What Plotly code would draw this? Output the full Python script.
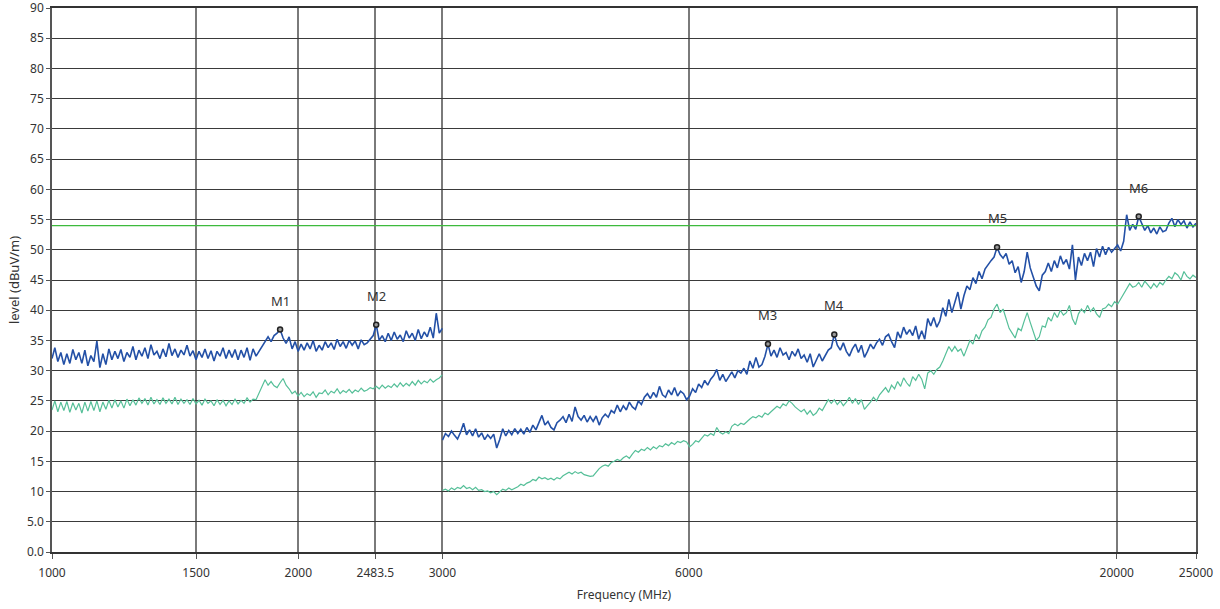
import numpy as np
import plotly.graph_objects as go

# ---------------- data ----------------
# sweep segments (MHz) and number of measured points in each
seg1_start, seg1_stop, seg1_n = 1000, 3000, 131
seg2_start, seg2_stop, seg2_n = 3000, 25000, 251

peak_seg1 = [
    32, 33.8, 31.5, 33, 31, 32.8, 31.2, 33.5, 31.8, 33,
    31.2, 33.4, 30.8, 32.5, 31.5, 34.9, 30.5, 32.8, 31, 33.6,
    31.8, 33.2, 32, 33.5, 31.5, 33, 32.2, 34, 31.8, 33.4,
    32.4, 33.8, 32, 34.3, 32.6, 33.2, 32, 33.6, 32.3, 34.5,
    32.5, 33.6, 32.2, 33.4, 32.6, 34.2, 32.4, 33.3, 31.8, 33.2,
    32.2, 33.6, 32, 33.3, 31.6, 33.2, 32.4, 33.8, 32, 33.4,
    32.2, 33.5, 31.8, 33.4, 32.2, 33.8, 31.7, 33.6, 32.4, 33.2,
    33.8, 34.6, 35.6, 34.8, 35.8, 36.2, 36.8, 35.4, 34.5, 35.6,
    33.6, 34.8, 33.2, 34.4, 33.4, 34.6, 33.6, 35, 33.2, 34.2,
    33.4, 34.8, 33.8, 34.6, 33.5, 35.2, 34, 34.8, 33.7, 35,
    34.2, 34.9, 33.6, 35.1, 34.3, 34.6, 35.2, 35.8, 37.6, 35,
    35.8, 34.8, 36.2, 35, 36.4, 35.2, 35.9, 34.8, 36.6, 35.4,
    36.2, 35, 36.8, 35.3, 36.4, 35.6, 37.2, 35.4, 39.5, 36.2, 37,
]
avg_seg1 = [
    23.5, 25, 23.2, 24.8, 23.4, 24.9, 23.1, 24.7, 23.5, 24.6,
    23, 24.8, 23.3, 24.9, 23.4, 25, 23.2, 24.8, 23.6, 25.1,
    23.8, 25.2, 24, 25, 23.8, 25.3, 24.2, 25.2, 24.3, 25.5,
    24.6, 25.4, 24.3, 25.6, 24.5, 25.2, 24.4, 25.5, 24.6, 25.3,
    24.5, 25.6, 24.4, 25.3, 24.6, 25.2, 24.4, 25.4, 24.5, 25.1,
    24.3, 25.3, 24.6, 25, 24.2, 25.2, 24.4, 25.1, 24.2, 25,
    24.4, 25.3, 24.5, 25.1, 24.6, 25.5, 24.8, 25.3, 25.2, 26.4,
    27.4, 28.5, 27.6, 28.2, 27.5, 27.2, 28, 28.7, 27.6, 27,
    26.2, 26.6, 25.8, 26.4, 25.7, 26.2, 25.9, 26.5, 25.6, 26.3,
    26.2, 26.8, 26, 26.6, 26.3, 27, 26.2, 26.7, 26.4, 26.9,
    26.3, 26.8, 26.5, 27.1, 26.6, 26.8, 27.2, 27, 27.4, 27,
    27.6, 27.1, 27.5, 27.2, 27.8, 27.3, 28, 27.4, 27.9, 27.5,
    28.2, 27.6, 28.4, 27.8, 28.3, 28, 28.6, 28.1, 28.5, 28.8, 29.3,
]
peak_seg2 = [
    18.5, 19.6, 19.1, 20, 19.3, 18.7, 19.8, 21.3, 19.4, 20.2,
    19.2, 20.4, 19, 19.7, 18.6, 19.4, 18.8, 19.5, 17.2, 18.6,
    20.4, 19.2, 20.1, 19.4, 20.4, 19.6, 20.3, 19.5, 20.6, 19.8,
    21, 20.2, 21.4, 22.6, 21, 21.6, 20.6, 20.2, 21.4, 21.8,
    22.4, 21.4, 22.8, 21.6, 24, 22.4, 21.8, 22.6, 21.5, 22.4,
    21.6, 22.5, 21, 22.2, 22.8, 22.3, 23.4, 23, 24.3, 23.2,
    24.2, 23.5, 24.8, 24, 23.6, 25, 24.4, 25.6, 26.2, 25.4,
    26.4, 25.6, 27.4, 26, 25.6, 26.8, 26, 27.2, 25.8, 26.6,
    26.2, 25.2, 25.8, 27, 26.4, 27.8, 27.2, 28.4, 27.6, 28.6,
    29.2, 30.2, 28.4, 29.4, 28.2, 29, 29.8, 28.8, 30, 29.6,
    30.4, 29.4, 31.6, 30.4, 32.2, 30.6, 31, 32.4, 34.4, 32.4,
    33.4, 32.2, 33.8, 32.6, 33, 31.8, 33.2, 32.4, 33.6, 32,
    32.6, 31.4, 32.8, 30.6, 31.8, 32.8, 31.6, 32.4, 33.4, 33.8,
    36, 34.2, 33.4, 34.6, 33.2, 32.4, 33.6, 34.4, 33, 34.2,
    32.2, 33.2, 34.4, 33.6, 34.6, 35.2, 34.2, 35.6, 36, 34.8,
    33.8, 36.4, 35.4, 37.2, 36, 36.8, 35.8, 37.4, 35.2, 36.6,
    35.2, 38.6, 37.4, 38.8, 37.2, 38.2, 40.4, 39, 41.8, 39.6,
    41.2, 43, 40.2, 42.4, 44, 43.4, 45.4, 44.4, 46.4, 45.2,
    46.8, 47.6, 48.2, 48.8, 50.4, 49.2, 48.6, 49.4, 47.6, 48.2,
    46.2, 47.2, 44.6, 46.4, 49.6, 47, 45.6, 44, 43.2, 45.8,
    46.4, 47.8, 46.4, 48.2, 47, 49, 47.6, 48.4, 46.8, 50.8,
    45, 48.8, 47.4, 49.4, 48.2, 49.6, 47.2, 50.2, 48.8, 50.6,
    49.2, 50.4, 49.6, 50.2, 50.8, 49.8, 51.4, 55.8, 53.2, 54.2,
    53.4, 55.5, 54.4, 53.2, 54, 52.8, 53.6, 52.6, 53.8, 53,
    53.2, 54.4, 55.2, 53.8, 55, 54.2, 54.8, 53.6, 54.6, 53.8, 54.4,
]
avg_seg2 = [
    10.2, 10.4, 10.1, 10.6, 10.3, 10.7, 10.5, 11, 10.5, 10.7,
    10.3, 10.7, 10.2, 10.3, 10, 10.1, 9.8, 10, 9.5, 9.9,
    10.4, 10.2, 10.6, 10.3, 10.5, 10.8, 11.2, 11, 11.4, 11.6,
    12, 11.8, 12.4, 12.1, 12.3, 12, 12.2, 11.9, 12.3, 12.1,
    12.6, 12.9, 13.2, 12.9, 13.3, 13, 13.2, 12.8, 12.6, 12.5,
    12.6, 13.2, 13.8, 14.2, 14.4, 14.2, 14.8, 15, 15.3, 15.1,
    15.6, 15.9, 15.5, 16.2, 16.8, 16.5, 17, 16.8, 17.3, 16.9,
    17.4, 17.1, 17.6, 17.4, 17.9, 17.6, 18.1, 17.8, 18.3, 18.1,
    18.4, 18.2, 17.4, 17.8, 18.4, 18.2, 18.9, 19.4, 19.2, 19.6,
    19.3, 20.6, 19.8, 19.5, 19.9, 19.6, 20.8, 21.2, 20.9, 21.3,
    21.1, 21.6, 22, 22.4, 22.2, 22.6, 22.3, 23, 22.7, 23.2,
    23.6, 24.1, 23.8, 24.5, 24.2, 25, 24.6, 24, 23.6, 23.2,
    23.6, 22.8, 23.4, 22.6, 23, 23.8, 23.4, 24.4, 25.2, 24.6,
    25.2, 24.4, 25, 24.2, 24.8, 25.6, 24.6, 25.4, 24.4, 25.2,
    23.6, 24.2, 24.8, 25.6, 25, 26, 26.6, 27.2, 26.4, 27.6,
    27, 28.2, 27.4, 28.8, 28, 27.4, 29, 28.4, 29.4, 28.6,
    27, 29.6, 30, 29.4, 30.2, 30.6, 31.6, 32.8, 34, 33.2,
    34, 33.2, 33.6, 32.4, 33.8, 35, 34.4, 36, 35.2, 36.6,
    37.2, 38.4, 38.8, 40.2, 41, 39.6, 40.2, 38.4, 37, 36.2,
    35.4, 37, 36.6, 38.2, 39.6, 38, 36.4, 35, 35.6, 37.4,
    37.2, 38.8, 38.2, 39.6, 38.8, 40, 39.2, 39.6, 40.8, 38.6,
    37.6, 39.4, 40.2, 39.6, 40.8, 39.8, 40.4, 39.4, 38.8, 40.2,
    40.4, 41, 40.6, 41.4, 41, 41.8, 42.8, 43.6, 44.4, 43.8,
    44, 44.6, 43.8, 44.8, 44.2, 43.6, 44.4, 43.8, 44.6, 44.2,
    45, 45.6, 45.2, 46.2, 45.8, 45, 46.4, 45.6, 45.2, 45.8, 45.4,
]
limit_level = 54.0

# markers: (segment, index into that segment's peak trace)
marker_names = ["M1", "M2", "M3", "M4", "M5", "M6"]
marker_seg = [1, 1, 2, 2, 2, 2]
marker_idx = [76, 108, 108, 130, 184, 231]

x_tick_vals = [1000, 1500, 2000, 2483.5, 3000, 6000, 20000, 25000]
x_tick_text = ["1000", "1500", "2000", "2483.5", "3000", "6000", "20000", "25000"]
y_tick_vals = list(range(0, 95, 5))
y_tick_text = ["0.0", "5.0"] + [str(v) for v in range(10, 95, 5)]

# ---------------- build ----------------
f1 = np.geomspace(seg1_start, seg1_stop, seg1_n)
f2 = np.geomspace(seg2_start, seg2_stop, seg2_n)
f1 = f1 * 0.9995  # keep segment 1 just left of 3000 so the jump is a gap
f1[0] = seg1_start

x_all = list(f1) + [None] + list(f2)
peak_all = peak_seg1 + [None] + peak_seg2
avg_all = avg_seg1 + [None] + avg_seg2

BLUE = "#2350a6"
GREEN = "#55bf98"

fig = go.Figure()
fig.add_trace(go.Scatter(x=x_all, y=avg_all, mode="lines",
                         line=dict(color=GREEN, width=1.2), connectgaps=False,
                         hoverinfo="skip", showlegend=False))
fig.add_trace(go.Scatter(x=x_all, y=peak_all, mode="lines",
                         line=dict(color=BLUE, width=1.6), connectgaps=False,
                         hoverinfo="skip", showlegend=False))
fig.add_trace(go.Scatter(x=[seg1_start, seg2_stop], y=[limit_level, limit_level],
                         mode="lines", line=dict(color="#3dba3d", width=1.2),
                         hoverinfo="skip", showlegend=False))

mx, my = [], []
for s, i in zip(marker_seg, marker_idx):
    if s == 1:
        mx.append(f1[i]); my.append(peak_seg1[i])
    else:
        mx.append(f2[i]); my.append(peak_seg2[i])

fig.add_trace(go.Scatter(x=mx, y=my, mode="markers",
                         marker=dict(symbol="circle", size=5, color="#9a9a9a",
                                     line=dict(color="#222222", width=1.5)),
                         hoverinfo="skip", showlegend=False))

for name, x, y in zip(marker_names, mx, my):
    fig.add_annotation(x=np.log10(x), y=y, text=name, showarrow=False,
                       yshift=29, font=dict(size=13, color="#333333",
                                            family="Noto Sans"))

fig.update_layout(
    width=1220, height=609,
    margin=dict(l=52, r=24, t=8, b=57, autoexpand=False),
    paper_bgcolor="white", plot_bgcolor="white",
    font=dict(family="Noto Sans", size=12, color="#333333"),
)
fig.update_xaxes(
    type="log", range=[np.log10(seg1_start), np.log10(seg2_stop)],
    tickmode="array", tickvals=x_tick_vals, ticktext=x_tick_text,
    showgrid=True, gridcolor="#7a7a7a", gridwidth=1.5,
    showline=True, linecolor="#333333", linewidth=1.5, mirror=True,
    ticks="outside", ticklen=5, tickcolor="#555555",
    tickfont=dict(size=12, color="#333333"), ticklabelstandoff=4,
    ticklabeloverflow="allow",
    title=dict(text="Frequency (MHz)", font=dict(size=12, color="#333333"),
               standoff=10),
    zeroline=False, automargin=False,
)
fig.update_yaxes(
    range=[0, 90], tickmode="array", tickvals=y_tick_vals, ticktext=y_tick_text,
    showgrid=True, gridcolor="#3a3a3a", gridwidth=1.3,
    showline=True, linecolor="#555555", linewidth=1.5, mirror=True,
    ticks="outside", ticklen=4, tickcolor="#555555",
    tickfont=dict(size=12, color="#333333"), ticklabeloverflow="allow",
    title=dict(text="level (dBuV/m)", font=dict(size=13, color="#333333"),
               standoff=4),
    zeroline=False, automargin=False,
)

fig.write_html("out.html", config={"displayModeBar": False},
               post_script="document.body.style.margin='0px';"
                           "document.body.style.overflow='hidden';")
